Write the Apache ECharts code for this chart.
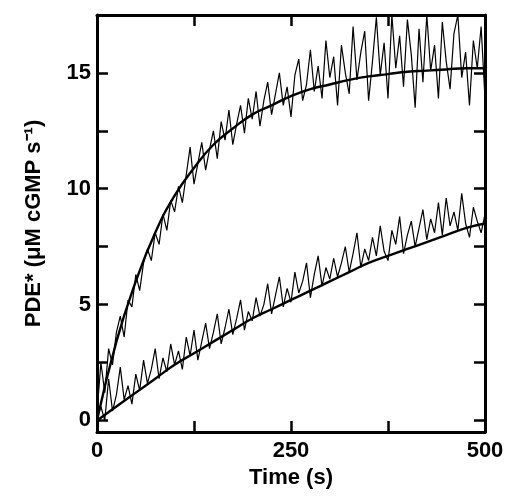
<!DOCTYPE html>
<html>
<head>
<meta charset="utf-8">
<script src="https://cdn.jsdelivr.net/npm/echarts@6/dist/echarts.min.js"></script>
<style>
html,body{margin:0;background:#fff}
#main{width:514px;height:500px}
</style>
</head>
<body>
<div id="main"></div>
<script>
// noisy traces sampled every 5 s
var upperTrace = [0.3,2.5,1.2,3.1,2.4,3.8,4.5,3.6,5.2,4.9,6.3,5.6,6.8,7.4,6.9,8.1,7.6,8.9,8.2,9.5,9.0,
  10.1,9.4,10.6,11.8,10.2,11.1,12.0,10.8,11.7,12.5,11.3,12.9,12.1,13.4,11.9,12.8,13.6,12.4,13.9,13.0,
  14.2,12.7,13.8,14.6,13.2,14.1,15.0,13.6,14.4,13.1,14.9,15.6,13.8,14.5,16.0,14.2,15.3,13.9,16.4,14.8,
  15.7,13.6,16.2,15.0,14.1,17.0,14.7,15.9,16.8,13.8,15.5,17.4,14.9,16.3,13.9,17.5,15.2,16.6,14.4,17.3,
  15.8,13.5,16.9,14.6,17.5,15.1,16.2,13.9,17.2,15.5,14.3,16.7,17.5,14.8,15.9,13.6,16.4,15.2,17.0,13.9];
var lowerTrace = [0.1,0.6,0.0,1.8,0.4,1.1,2.3,0.9,1.5,0.7,2.0,1.3,2.6,1.6,2.2,3.1,1.8,2.7,2.1,3.3,2.4,
  3.0,2.2,3.6,2.8,3.9,2.6,3.4,4.2,3.1,3.8,4.6,3.3,4.0,4.8,3.7,4.4,5.2,3.9,4.7,4.3,
  5.3,4.5,5.0,5.9,4.6,5.4,6.2,4.9,5.7,5.1,6.4,5.5,6.0,6.8,5.3,6.3,7.1,5.8,6.6,6.1,
  7.0,6.2,6.8,7.5,6.4,7.2,8.1,6.6,7.4,6.9,7.9,7.1,8.4,7.3,6.9,8.2,7.6,8.8,7.2,8.0,
  8.6,7.5,8.3,9.1,7.8,8.7,8.1,9.4,8.0,9.6,8.4,9.0,8.2,9.8,8.5,7.9,9.2,8.6,8.1,8.9];
// smooth fits sampled every 25 s
var upperFit = [0,3.4,6.0,8.1,9.7,10.9,11.9,12.6,13.2,13.6,14.0,14.3,14.5,14.7,14.85,14.95,15.05,15.1,15.15,15.2,15.2];
var lowerFit = [0,0.6,1.2,1.8,2.4,2.9,3.4,3.9,4.4,4.8,5.2,5.6,6.0,6.4,6.8,7.1,7.4,7.7,8.0,8.3,8.5];
var xTicks = [0,250,500];
var yTicks = [0,5,10,15];
var xTickMarks = [0,125,250,375,500];
var yTickMarks = [0,2.5,5,7.5,10,12.5,15];

function pairs(arr, step){ return arr.map(function(v,i){ return [i*step, v]; }); }

var font = {fontFamily:'Liberation Sans', fontWeight:'bold', fontSize:22, color:'#000'};
function axis(extra, marks){
  return Object.assign({
    type:'value',
    axisLine:{show:true, onZero:false, lineStyle:{color:'#000', width:3}},
    axisTick:{show:true, inside:true, length:11, customValues:marks, lineStyle:{color:'#000', width:2.5}},
    axisLabel:{show:false},
    splitLine:{show:false}
  }, extra);
}
var chart = echarts.init(document.getElementById('main'));
chart.setOption({
  backgroundColor:'#fff',
  grid:{left:97, right:29, top:15, bottom:68},
  xAxis:[
    axis({min:0, max:500, position:'bottom', name:'Time (s)', nameLocation:'middle', nameGap:32,
      nameTextStyle:font, axisLabel:Object.assign({}, font, {customValues:xTicks, margin:8})}, xTickMarks),
    axis({min:0, max:500, position:'top'}, xTickMarks)
  ],
  yAxis:[
    axis({min:-0.5, max:17.5, position:'left', name:'PDE* (\u03bcM cGMP s\u207b\u00b9)', nameLocation:'middle',
      nameGap:52, nameTextStyle:font, axisLabel:Object.assign({}, font, {customValues:yTicks, margin:6})}, yTickMarks),
    axis({min:-0.5, max:17.5, position:'right'}, yTickMarks)
  ],
  series:[
    {type:'line', data:pairs(upperTrace,5), symbol:'none', lineStyle:{color:'#000', width:1.2}, animation:false},
    {type:'line', data:pairs(lowerTrace,5), symbol:'none', lineStyle:{color:'#000', width:1.2}, animation:false},
    {type:'line', data:pairs(upperFit,25), symbol:'none', smooth:true, lineStyle:{color:'#000', width:2.4}, animation:false},
    {type:'line', data:pairs(lowerFit,25), symbol:'none', smooth:true, lineStyle:{color:'#000', width:2.4}, animation:false}
  ]
});
</script>
</body>
</html>
